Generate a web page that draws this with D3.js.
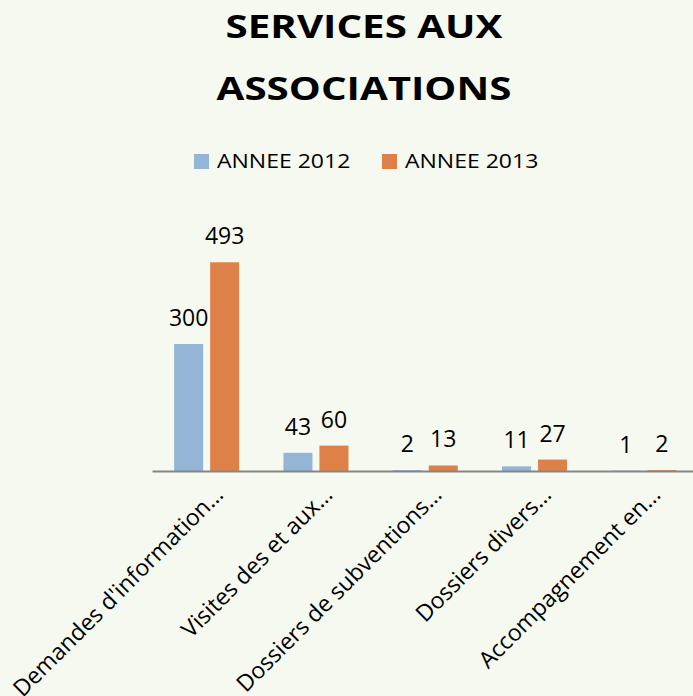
<!DOCTYPE html>
<html>
<head>
<meta charset="utf-8">
<script src="https://cdn.jsdelivr.net/npm/d3@7"></script>
<style>
  body { margin: 0; background: #f5f9ef; }
</style>
</head>
<body>
<div id="chart"></div>
<script>
// data
var categories = ["Demandes d'information…", "Visites des et aux…", "Dossiers de subventions…", "Dossiers divers…", "Accompagnement en…"];
var series = ["ANNEE 2012", "ANNEE 2013"];
var values2012 = [300, 43, 2, 11, 1];
var values2013 = [493, 60, 13, 27, 2];
var titleLines = ["SERVICES AUX", "ASSOCIATIONS"];

var colors = ["#95b5d6", "#dd8148"];

var width = 693, height = 696;
var baseline = 471;

var svg = d3.select("#chart")
  .append("svg")
    .attr("width", width)
    .attr("height", height);

svg.append("rect")
  .attr("width", width)
  .attr("height", height)
  .attr("fill", "#f5f9ef");

var data = categories.map(function(c, i) {
  return { cat: c, vals: [values2012[i], values2013[i]] };
});

// scales
var x0 = d3.scaleBand()
  .domain(categories)
  .range([152, 698.5])
  .paddingInner(0.405)
  .paddingOuter(0.2025);

var x1 = d3.scaleBand()
  .domain(series)
  .range([0, x0.bandwidth()])
  .paddingInner(0.194);

var y = d3.scaleLinear()
  .domain([0, 600])
  .range([baseline, baseline - 254]);

// title
svg.selectAll(".title")
  .data(titleLines)
  .enter()
  .append("text")
    .attr("class", "title")
    .attr("text-anchor", "middle")
    .attr("transform", function(d, i) { return "translate(364," + (38 + i * 62) + ") scale(1.26,1)"; })
    .style("font-family", "'Open Sans', sans-serif")
    .style("font-weight", "bold")
    .style("font-size", "32px")
    .attr("fill", "#000")
    .text(function(d) { return d; });

// legend
var legendX = [194, 382];
var legend = svg.selectAll(".legend")
  .data(series)
  .enter()
  .append("g")
    .attr("class", "legend")
    .attr("transform", function(d, i) { return "translate(" + legendX[i] + ",154)"; });

legend.append("rect")
  .attr("width", 15)
  .attr("height", 15)
  .attr("fill", function(d, i) { return colors[i]; });

legend.append("text")
  .attr("transform", "translate(23,14) scale(1.15,1)")
  .style("font-family", "'Open Sans', sans-serif")
  .style("font-size", "20px")
  .attr("fill", "#000")
  .text(function(d) { return d; });

// bars
var groups = svg.selectAll(".group")
  .data(data)
  .enter()
  .append("g")
    .attr("class", "group")
    .attr("transform", function(d) { return "translate(" + x0(d.cat) + ",0)"; });

groups.selectAll("rect")
  .data(function(d) { return d.vals.map(function(v, i) { return { s: series[i], v: v, i: i }; }); })
  .enter()
  .append("rect")
    .attr("x", function(d) { return x1(d.s); })
    .attr("y", function(d) { return y(d.v); })
    .attr("width", x1.bandwidth())
    .attr("height", function(d) { return baseline - y(d.v); })
    .attr("fill", function(d) { return colors[d.i]; });

groups.selectAll(".val")
  .data(function(d) { return d.vals.map(function(v, i) { return { s: series[i], v: v, i: i }; }); })
  .enter()
  .append("text")
    .attr("class", "val")
    .attr("x", function(d) { return x1(d.s) + x1.bandwidth() / 2; })
    .attr("y", function(d) { return y(d.v) - 18; })
    .attr("text-anchor", "middle")
    .style("font-family", "'Open Sans', sans-serif")
    .style("font-size", "23px")
    .attr("fill", "#000")
    .text(function(d) { return d.v; });

// x axis
var xAxis = svg.append("g")
  .attr("transform", "translate(0," + baseline + ")")
  .call(d3.axisBottom(x0).tickSize(0).tickSizeOuter(0));

xAxis.select(".domain")
  .attr("stroke", "#868686")
  .attr("stroke-width", 2);

xAxis.selectAll("text")
  .attr("x", 0)
  .attr("y", 0)
  .attr("dy", 0)
  .attr("transform", "translate(18,25) rotate(-45)")
  .style("text-anchor", "end")
  .style("font-family", "'Open Sans', sans-serif")
  .style("font-size", "23px")
  .attr("fill", "#000");
</script>
</body>
</html>
